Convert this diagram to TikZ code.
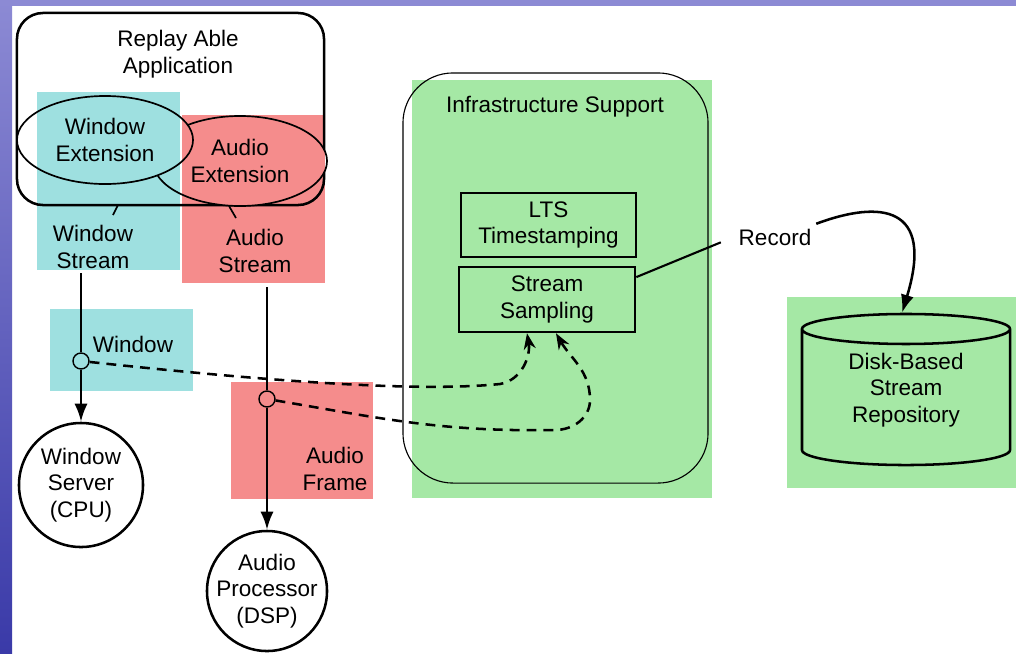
\documentclass[tikz,border=0pt]{standalone}
\usepackage{fontspec}
\setmainfont{Liberation Sans}
\usetikzlibrary{shapes.geometric,arrows.meta}

\definecolor{winpatch}{RGB}{158,224,224}
\definecolor{audpatch}{RGB}{245,140,140}
\definecolor{infpatch}{RGB}{165,232,165}
\definecolor{edgelight}{RGB}{140,138,212}
\definecolor{edgedark}{RGB}{58,58,168}

\begin{document}
\begin{tikzpicture}[x=0.025cm, y=-0.025cm,
    font=\fontsize{16}{19}\selectfont,
    thickline/.style={line width=1.8pt},
    flow/.style={line width=1.8pt, dash pattern=on 7pt off 5pt, -{Stealth[length=4mm,width=3mm]}},
    feed/.style={line width=1.8pt, -{Latex[length=4.5mm,width=3.3mm]}},
    tap/.style={circle, draw, fill=white, line width=1pt, minimum size=0.4cm, inner sep=0pt},
    unit/.style={circle, draw, thickline, inner sep=-4pt, align=center},
    patch/.style={blend mode=multiply}]
    \useasboundingbox (0,0) rectangle (1016,653);

    % Slide edge
    \shade[top color=edgelight, bottom color=edgedark] (0,0) rectangle (12,653);
    \fill[edgelight] (0,0) rectangle (1016,6);

    % Replay Able Application
    \node[draw, thickline, rounded corners=0.65cm, minimum width=7.675cm, minimum height=4.8cm] (app) at (170.5,109) {};
    \node[align=center] (apptitle) at (178,54) {Replay Able\\Application};
    \node[ellipse, draw, fill=white, line width=1.2pt, minimum width=4.35cm, minimum height=2.25cm, align=center] (audext) at (240,161) {Audio\\Extension};
    \node[ellipse, draw, fill=white, line width=1.2pt, minimum width=4.4cm, minimum height=2.2cm, align=center] (winext) at (105,140) {Window\\Extension};
    \draw[line width=1.2pt] (118,205) -- (113,215);
    \draw[line width=1.2pt] (229,206) -- (236,218);

    % Streams
    \node[align=center] (wstream) at (93,247) {Window\\Stream};
    \node[align=center] (astream) at (255,251) {Audio\\Stream};
    \coordinate (wtop) at (81,273);
    \coordinate (atop) at (267,287);
    \node[tap] (wtap) at (81,361) {};
    \node[tap] (atap) at (267,399) {};
    \node (wlabel) at (133,344) {Window};
    \node[align=center] (flabel) at (335,469) {Audio\\Frame};

    % Sinks
    \node[unit, minimum size=3.1cm] (server) at (81,485) {Window\\Server\\(CPU)};
    \node[unit, minimum size=3.0cm] (dsp) at (267,591) {Audio\\Processor\\(DSP)};

    % Infrastructure Support
    \node[draw, line width=0.8pt, rounded corners=1.25cm, minimum width=7.625cm, minimum height=10.25cm] (infra) at (555.5,278) {};
    \node (infratitle) at (555,107) {Infrastructure Support};
    \node[draw, thickline, minimum width=4.375cm, minimum height=1.6cm, align=center] (lts) at (548.5,225) {LTS\\Timestamping};
    \node[draw, thickline, minimum width=4.4cm, minimum height=1.625cm, align=center] (sampling) at (547,299.5) {Stream\\Sampling};

    % Repository
    \node (record) at (775,237) {Record};
    \node[cylinder, shape border rotate=90, aspect=0.25, inner xsep=1.5cm, draw, thickline, fill=white, minimum width=5.2cm, minimum height=3.775cm, anchor=shape center] (repo) at (906,389.5) {};
    \node[align=center] (repotext) at (906,390) {Disk-Based\\Stream\\Repository};

    % Connections
    \draw[thickline] (wtop) -- (wtap);
    \draw[feed] (wtap) -- (server);
    \draw[thickline] (atop) -- (atap);
    \draw[feed] (atap) -- (dsp);
    \draw[flow] (wtap) .. controls (330,388) and (440,390) .. (500,384) to[out=10, in=-80] ([xshift=-0.5cm]sampling.south);
    \draw[flow] (atap) .. controls (380,418) and (440,432) .. (555,430) to[out=0, in=-90] (590,400) to[out=90, in=-60] ([xshift=0.225cm]sampling.south);
    \draw[line width=1.5pt, shorten >=0.35cm] ([yshift=0.56cm]sampling.east) -- (record.west);
    \draw[feed] (record.north east) .. controls (880,200) and (935,205) .. ([xshift=-0.1cm]repo.north);

    % Highlights
    \fill[winpatch, patch] (37,92) rectangle (180,270);
    \fill[audpatch, patch] (182,115) rectangle (325,283);
    \fill[winpatch, patch] (50,309) rectangle (193,391);
    \fill[audpatch, patch] (231,382) rectangle (373,499);
    \fill[infpatch, patch] (412,80) rectangle (712,498);
    \fill[infpatch, patch] (787,297) rectangle (1016,488);
\end{tikzpicture}
\end{document}
